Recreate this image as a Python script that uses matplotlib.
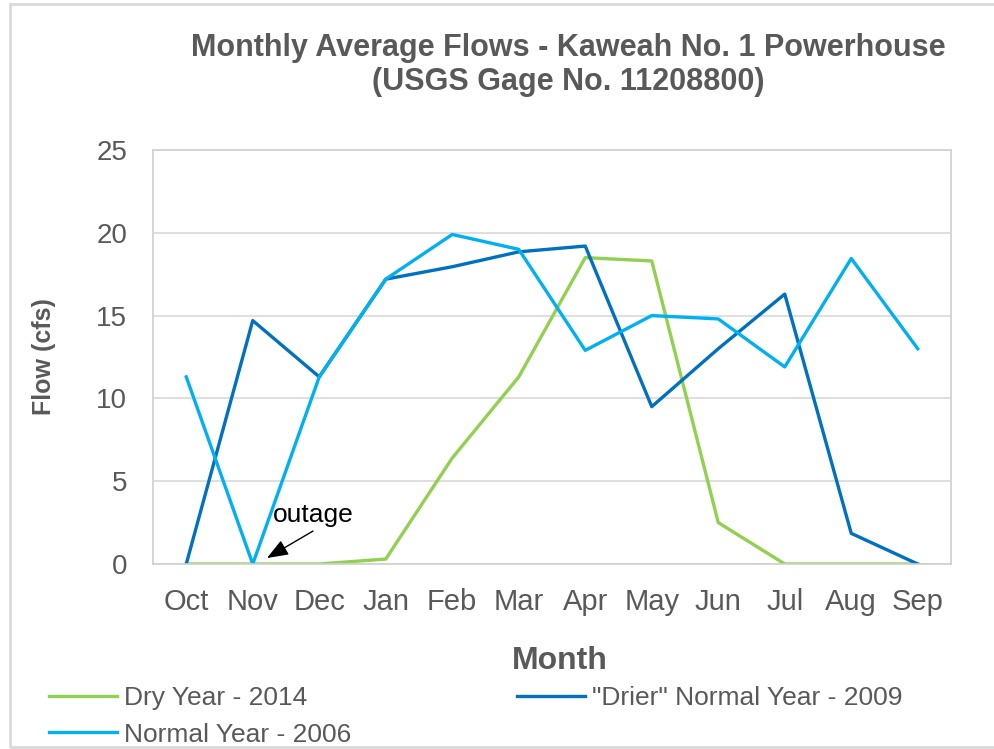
import matplotlib
matplotlib.use("Agg")
import matplotlib.pyplot as plt
from matplotlib.patches import Rectangle

months = ["Oct", "Nov", "Dec", "Jan", "Feb", "Mar", "Apr", "May", "Jun", "Jul", "Aug", "Sep"]
dry_2014 = [0, 0, 0, 0.3, 6.4, 11.3, 18.5, 18.3, 2.5, 0, 0, 0]
drier_2009 = [0, 14.7, 11.3, 17.2, 17.95, 18.85, 19.2, 9.5, 13.0, 16.3, 1.85, 0]
normal_2006 = [11.3, 0, 11.3, 17.2, 19.9, 19.0, 12.9, 15.0, 14.8, 11.9, 18.45, 13.0]

grey = "#595959"
plt.rcParams['font.family'] = ['Liberation Sans', 'DejaVu Sans']

fig = plt.figure(figsize=(9.95, 7.49), dpi=100)
W, H = 995, 749
ax = fig.add_axes([153 / W, 1 - 564 / H, (951 - 153) / W, (564 - 150) / H])

x = list(range(len(months)))
l_dry, = ax.plot(x, dry_2014, color="#92D050", lw=2.4, label="Dry Year - 2014")
l_drier, = ax.plot(x, drier_2009, color="#0070C0", lw=2.4, label="\"Drier\" Normal Year - 2009")
l_norm, = ax.plot(x, normal_2006, color="#00B0F0", lw=2.4, label="Normal Year - 2006")

ax.set_xlim(-0.5, 11.5)
ax.set_ylim(0, 25)
ax.set_yticks([0, 5, 10, 15, 20, 25])
ax.set_xticks(x)
ax.set_xticklabels(months)
ax.grid(axis="y", color="#D9D9D9", lw=1.2)
ax.set_axisbelow(True)
for s in ax.spines.values():
    s.set_color("#D0D0D0")
    s.set_linewidth(1.2)
ax.tick_params(axis="both", length=0, colors=grey)
ax.tick_params(axis="y", pad=18.5, labelsize=20)
ax.tick_params(axis="x", pad=17, labelsize=21)

ax.set_ylabel("Flow (cfs)", fontsize=18, fontweight="bold", color=grey)
ax.yaxis.label.set_va("center")
ax.yaxis.set_label_coords((44 - 153) / 798, 0.5)
ax.set_xlabel("Month", fontsize=23, fontweight="bold", color=grey)
ax.xaxis.label.set_va("center")
ax.xaxis.set_label_coords((560 - 153) / 798, (564 - 661) / 414)

fig.text(568 / W, 1 - 48 / H, "Monthly Average Flows - Kaweah No. 1 Powerhouse",
         ha="center", va="center", fontsize=22, fontweight="bold", color=grey)
fig.text(568 / W, 1 - 82 / H, "(USGS Gage No. 11208800)",
         ha="center", va="center", fontsize=22, fontweight="bold", color=grey)

ax.text(1.305, 2.96, "outage", fontsize=19, color="black", ha="left", va="center")
ax.annotate("", xy=(1.214, 0.36), xytext=(1.906, 1.99),
            arrowprops=dict(arrowstyle="-|>,head_length=1.3,head_width=0.5", color="black", lw=1.0,
                            shrinkA=0, shrinkB=0, mutation_scale=10))

leg = fig.legend(handles=[l_dry, l_norm, l_drier], loc="upper left", bbox_to_anchor=(49 / W, 1 - 686 / H),
                 ncol=2, frameon=False, fontsize=19, handlelength=2.58, handletextpad=0.27,
                 columnspacing=6.27, labelspacing=0.48, borderaxespad=0, borderpad=0)
for t in leg.get_texts():
    t.set_color(grey)

fig.patches.append(Rectangle((10 / W, 2 / H), 1.2, 1 - 6 / H, transform=fig.transFigure,
                             fill=False, edgecolor="#D9D9D9", lw=2))

fig.savefig("out.png", dpi=100)
